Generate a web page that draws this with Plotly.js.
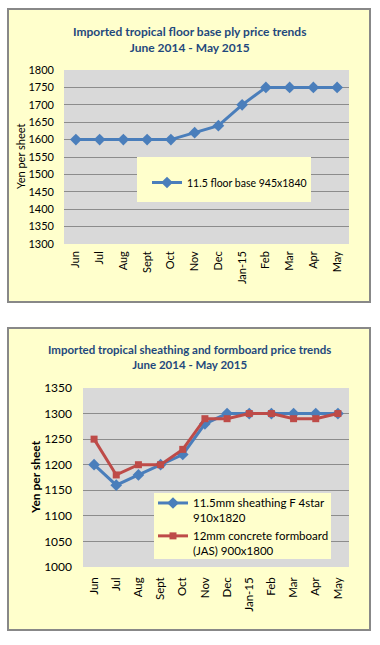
<!DOCTYPE html>
<html><head><meta charset="utf-8">
<script src="https://cdn.plot.ly/plotly-3.0.1.min.js"></script>
<style>
html,body{margin:0;padding:0;background:#fff;}
#wrap{position:relative;width:380px;height:645px;}
.box{position:absolute;box-sizing:border-box;background:#FFFFCC;border:2px solid #888;}
#c{position:absolute;left:0;top:0;width:380px;height:645px;}
</style>
</head><body><div id="wrap">
<div class="box" style="left:7px;top:8px;width:364px;height:295px;"></div>
<div class="box" style="left:7px;top:327px;width:364px;height:304px;"></div>
<div id="c"></div></div>
<script>
const months = ["Jun","Jul","Aug","Sept","Oct","Nov","Dec","Jan-15","Feb","Mar","Apr","May"];
const floorBase = [1600,1600,1600,1600,1600,1620,1640,1700,1750,1750,1750,1750];
const sheathing = [1200,1160,1180,1200,1220,1280,1300,1300,1300,1300,1300,1300];
const formboard = [1250,1180,1200,1200,1230,1290,1290,1300,1300,1290,1290,1300];
const title1 = "Imported tropical floor base ply price trends<br>June 2014 - May 2015";
const title2 = "Imported tropical sheathing and formboard price trends<br>June 2014 - May 2015";
const name1 = "11.5 floor base 945x1840";
const name2 = "11.5mm sheathing F 4star<br>910x1820";
const name3 = "12mm concrete formboard<br>(JAS) 900x1800";

const W=380,H=645;
const px=x=>x/W, py=y=>1-y/H;
const F="Lato, 'Open Sans', sans-serif";
const blue="#4A7EBB", red="#BE4B48";

const traces=[
 {x:months,y:floorBase,name:name1,type:"scatter",mode:"lines+markers",xaxis:"x",yaxis:"y",legend:"legend",
  line:{color:blue,width:3},marker:{symbol:"diamond",size:9,color:blue}},
 {x:months,y:sheathing,name:name2,type:"scatter",mode:"lines+markers",xaxis:"x2",yaxis:"y2",legend:"legend2",
  line:{color:blue,width:3},marker:{symbol:"diamond",size:9,color:blue}},
 {x:months,y:formboard,name:name3,type:"scatter",mode:"lines+markers",xaxis:"x2",yaxis:"y2",legend:"legend2",
  line:{color:red,width:3},marker:{symbol:"square",size:7,color:red}}
];

const axX={type:"category",showgrid:false,zeroline:false,showline:false,tickangle:-90,
  tickfont:{family:F,size:11,color:"#000"},ticks:"",range:[-0.5,11.5],fixedrange:true};
const axY={showgrid:true,gridcolor:"#8c8c8c",gridwidth:1,zeroline:false,showline:false,ticks:"",
  tickfont:{family:F,size:11,color:"#000"},fixedrange:true};

const layout={
 width:W,height:H,margin:{l:0,r:0,t:0,b:0},paper_bgcolor:"rgba(0,0,0,0)",plot_bgcolor:"#D9D9D9",
 font:{family:F},showlegend:true,
 xaxis:Object.assign({},axX,{domain:[px(64),px(349)],anchor:"y",ticklabelstandoff:4}),
 yaxis:Object.assign({},axY,{domain:[py(244),py(70)],anchor:"x",range:[1300,1800],dtick:50,ticklabelstandoff:9}),
 xaxis2:Object.assign({},axX,{domain:[px(83),px(349)],anchor:"y2",ticklabelstandoff:7,tickfont:{family:F,size:11.5,color:"#000"}}),
 yaxis2:Object.assign({},axY,{domain:[py(567),py(388)],anchor:"x2",range:[1000,1350],dtick:50,ticklabelstandoff:10,tickfont:{family:F,size:12,color:"#000"}}),
 legend:{visible:true,x:px(147),y:py(168),xanchor:"left",yanchor:"top",bgcolor:"rgba(0,0,0,0)",borderwidth:0,
   font:{family:F,size:10.5,color:"#000"}},
 legend2:{visible:true,x:px(153),y:py(489),xanchor:"left",yanchor:"top",bgcolor:"rgba(0,0,0,0)",borderwidth:0,valign:"top",
   font:{family:F,size:11.5,color:"#000"},tracegroupgap:0},
 shapes:[
  {type:"rect",xref:"paper",yref:"paper",x0:px(137),x1:px(311),y0:py(202),y1:py(157),
   fillcolor:"#FFFFCC",line:{width:0},layer:"above"},
  {type:"rect",xref:"paper",yref:"paper",x0:px(154),x1:px(331),y0:py(559),y1:py(493),
   fillcolor:"#FFFFCC",line:{width:0},layer:"above"}
 ],
 annotations:[
  {text:title1,xref:"paper",yref:"paper",x:px(189),y:py(39),xanchor:"center",yanchor:"middle",showarrow:false,
   font:{family:F,size:12,color:"#1F497D",weight:"bold"}},
  {text:title2,xref:"paper",yref:"paper",x:px(189),y:py(357),xanchor:"center",yanchor:"middle",showarrow:false,
   font:{family:F,size:11.5,color:"#1F497D",weight:"bold"}},
  {text:"Yen per sheet",xref:"paper",yref:"paper",x:px(20),y:py(157),xanchor:"center",yanchor:"middle",textangle:-90,showarrow:false,
   font:{family:F,size:11,color:"#000"}},
  {text:"Yen per sheet",xref:"paper",yref:"paper",x:px(35),y:py(477),xanchor:"center",yanchor:"middle",textangle:-90,showarrow:false,
   font:{family:F,size:12,color:"#000",weight:"bold"}}
 ]
};
Plotly.newPlot("c",traces,layout,{displayModeBar:false,staticPlot:true});
</script></body></html>
